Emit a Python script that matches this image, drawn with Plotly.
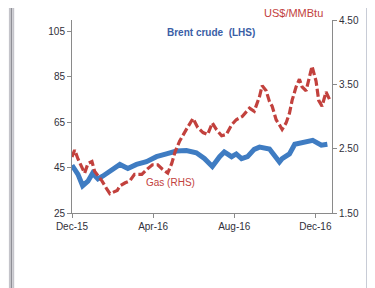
import plotly.graph_objects as go

brent_dates = ["2015-12-01", "2015-12-05", "2015-12-10", "2015-12-17", "2015-12-25", "2016-01-01",
               "2016-01-09", "2016-01-16", "2016-01-24", "2016-01-31", "2016-02-11", "2016-02-23",
               "2016-03-07", "2016-03-22", "2016-04-06", "2016-04-21", "2016-05-06", "2016-05-21",
               "2016-06-05", "2016-06-17", "2016-06-29", "2016-07-10", "2016-07-17", "2016-07-28",
               "2016-08-04", "2016-08-12", "2016-08-21", "2016-08-31", "2016-09-08", "2016-09-23",
               "2016-10-03", "2016-10-08", "2016-10-12", "2016-10-23", "2016-10-31", "2016-11-12",
               "2016-11-27", "2016-12-10", "2016-12-19"]
brent_values = [46, 44.5, 42, 37, 39, 42.5,
                40, 41.2, 43, 44.6, 46.4, 44.6,
                46.4, 47.6, 49.8, 51, 52.3, 52.5,
                51.5, 49, 45.5, 49.8, 51.9, 49.8,
                51, 48.9, 49.8, 53, 54, 53.2,
                49.8, 47.5, 48.9, 51, 55.3, 56.2,
                57, 54.9, 55.3]

gas_dates = ["2015-12-01", "2015-12-05", "2015-12-10", "2015-12-16", "2015-12-20", "2015-12-25",
             "2015-12-31", "2016-01-04", "2016-01-15", "2016-01-22", "2016-01-27", "2016-02-07",
             "2016-02-11", "2016-02-19", "2016-02-26", "2016-03-04", "2016-03-15", "2016-03-24",
             "2016-03-31", "2016-04-08", "2016-04-15", "2016-04-23", "2016-04-29", "2016-05-04",
             "2016-05-11", "2016-05-21", "2016-05-31", "2016-06-07", "2016-06-15", "2016-06-22",
             "2016-06-29", "2016-07-05", "2016-07-13", "2016-07-20", "2016-07-28", "2016-08-04",
             "2016-08-13", "2016-08-24", "2016-08-31", "2016-09-08", "2016-09-12", "2016-09-18",
             "2016-09-23", "2016-09-27", "2016-10-03", "2016-10-08", "2016-10-12", "2016-10-18",
             "2016-10-23", "2016-10-27", "2016-11-02", "2016-11-07", "2016-11-11", "2016-11-17",
             "2016-11-22", "2016-11-26", "2016-12-02", "2016-12-06", "2016-12-11", "2016-12-17",
             "2016-12-23"]
gas_values = [2.37, 2.48, 2.34, 2.19, 2.12, 2.27,
              2.30, 2.15, 2.00, 1.88, 1.80, 1.85,
              1.92, 1.97, 2.00, 2.10, 2.10, 2.19,
              2.25, 2.25, 2.18, 2.12, 2.27, 2.45,
              2.62, 2.80, 2.97, 2.83, 2.75, 2.72,
              2.90, 2.80, 2.70, 2.72, 2.87, 2.95,
              3.00, 3.13, 3.08, 3.31, 3.48, 3.40,
              3.23, 3.16, 2.95, 2.87, 2.80, 2.90,
              3.05, 3.25, 3.46, 3.58, 3.46, 3.40,
              3.63, 3.78, 3.55, 3.25, 3.16, 3.38,
              3.25]

x_tickvals = ["2015-12-01", "2016-04-01", "2016-08-01", "2016-12-01"]
x_ticktext = ["Dec-15", "Apr-16", "Aug-16", "Dec-16"]
left_ticks = [25, 45, 65, 85, 105]
right_ticks = [1.5, 2.5, 3.5, 4.5]
right_ticktext = ["1.50", "2.50", "3.50", "4.50"]

BLUE = "#3f7cc2"
RED = "#c2413d"
AX = "#8a8a8a"
TXT = "#30303a"

fig = go.Figure()
fig.add_trace(go.Scatter(x=brent_dates, y=brent_values, mode="lines",
                         line=dict(color=BLUE, width=5), yaxis="y"))
fig.add_trace(go.Scatter(x=gas_dates, y=gas_values, mode="lines",
                         line=dict(color=RED, width=3.2, dash="8px,3px"), yaxis="y2"))

# page body has an 8px margin: work in viewport pixels, subtract offset
OFF = 8
W, H = 375 - OFF, 288 - OFF
L, R, T, B = 72 - OFF, 332 - OFF, 14 - OFF, 213 - OFF

def px(x):  # viewport x -> paper
    return (x - OFF - L) / (R - L)

def py(y):  # viewport y -> paper
    return (B - (y - OFF)) / (B - T)

fig.update_layout(
    width=W, height=H,
    margin=dict(l=L, r=W - R, t=T, b=H - B),
    paper_bgcolor="white", plot_bgcolor="white",
    showlegend=False,
    font=dict(family="Liberation Sans, Arial", size=10, color=TXT),
    xaxis=dict(type="date", range=["2015-12-01", "2016-12-26"],
               tickvals=x_tickvals, ticktext=x_ticktext,
               showgrid=False, zeroline=False, showline=True, linecolor=AX, linewidth=1,
               ticks="outside", ticklen=4, tickcolor=AX, tickfont=dict(size=10, color=TXT)),
    yaxis=dict(range=[25, 110], tickvals=left_ticks, showgrid=False, zeroline=False,
               showline=True, linecolor=AX, linewidth=1, ticks="outside", ticklen=4,
               tickcolor=AX, tickfont=dict(size=10, color=TXT)),
    yaxis2=dict(range=[1.5, 4.5], tickvals=right_ticks, ticktext=right_ticktext,
                overlaying="y", side="right", showgrid=False, zeroline=False,
                showline=True, linecolor=AX, linewidth=1, ticks="outside", ticklen=4,
                tickcolor=AX, tickfont=dict(size=10, color=TXT)),
)

shapes = [
    dict(type="line", xref="paper", yref="paper", x0=px(9.8), x1=px(9.8), y0=py(0), y1=py(300),
         line=dict(color="#c4c4ca", width=1.8), layer="above"),
    dict(type="line", xref="paper", yref="paper", x0=px(11.5), x1=px(11.5), y0=py(0), y1=py(300),
         line=dict(color="#8f8f96", width=1.5), layer="above"),
    dict(type="line", xref="paper", yref="paper", x0=px(13.3), x1=px(13.3), y0=py(0), y1=py(300),
         line=dict(color="#c4c4ca", width=1.8), layer="above"),
    dict(type="line", xref="paper", yref="paper", x0=px(367), x1=px(367), y0=py(0), y1=py(300),
         line=dict(color="#c8ccd6", width=2), layer="above"),
]
fig.update_layout(shapes=shapes)

fig.add_annotation(text="<b>Brent crude  (LHS)</b>", xref="paper", yref="paper",
                   x=px(211), y=py(27), showarrow=False, xanchor="center", yanchor="middle",
                   font=dict(size=10, color="#3a5ea6"))
fig.add_annotation(text="Gas (RHS)", xref="paper", yref="paper",
                   x=px(170), y=py(182), showarrow=False, xanchor="center", yanchor="middle",
                   font=dict(size=10, color=RED))
fig.add_annotation(text="US$/MMBtu", xref="paper", yref="paper",
                   x=px(293), y=py(7), showarrow=False, xanchor="center", yanchor="middle",
                   font=dict(size=11, color=RED))

fig.write_html("out.html")
